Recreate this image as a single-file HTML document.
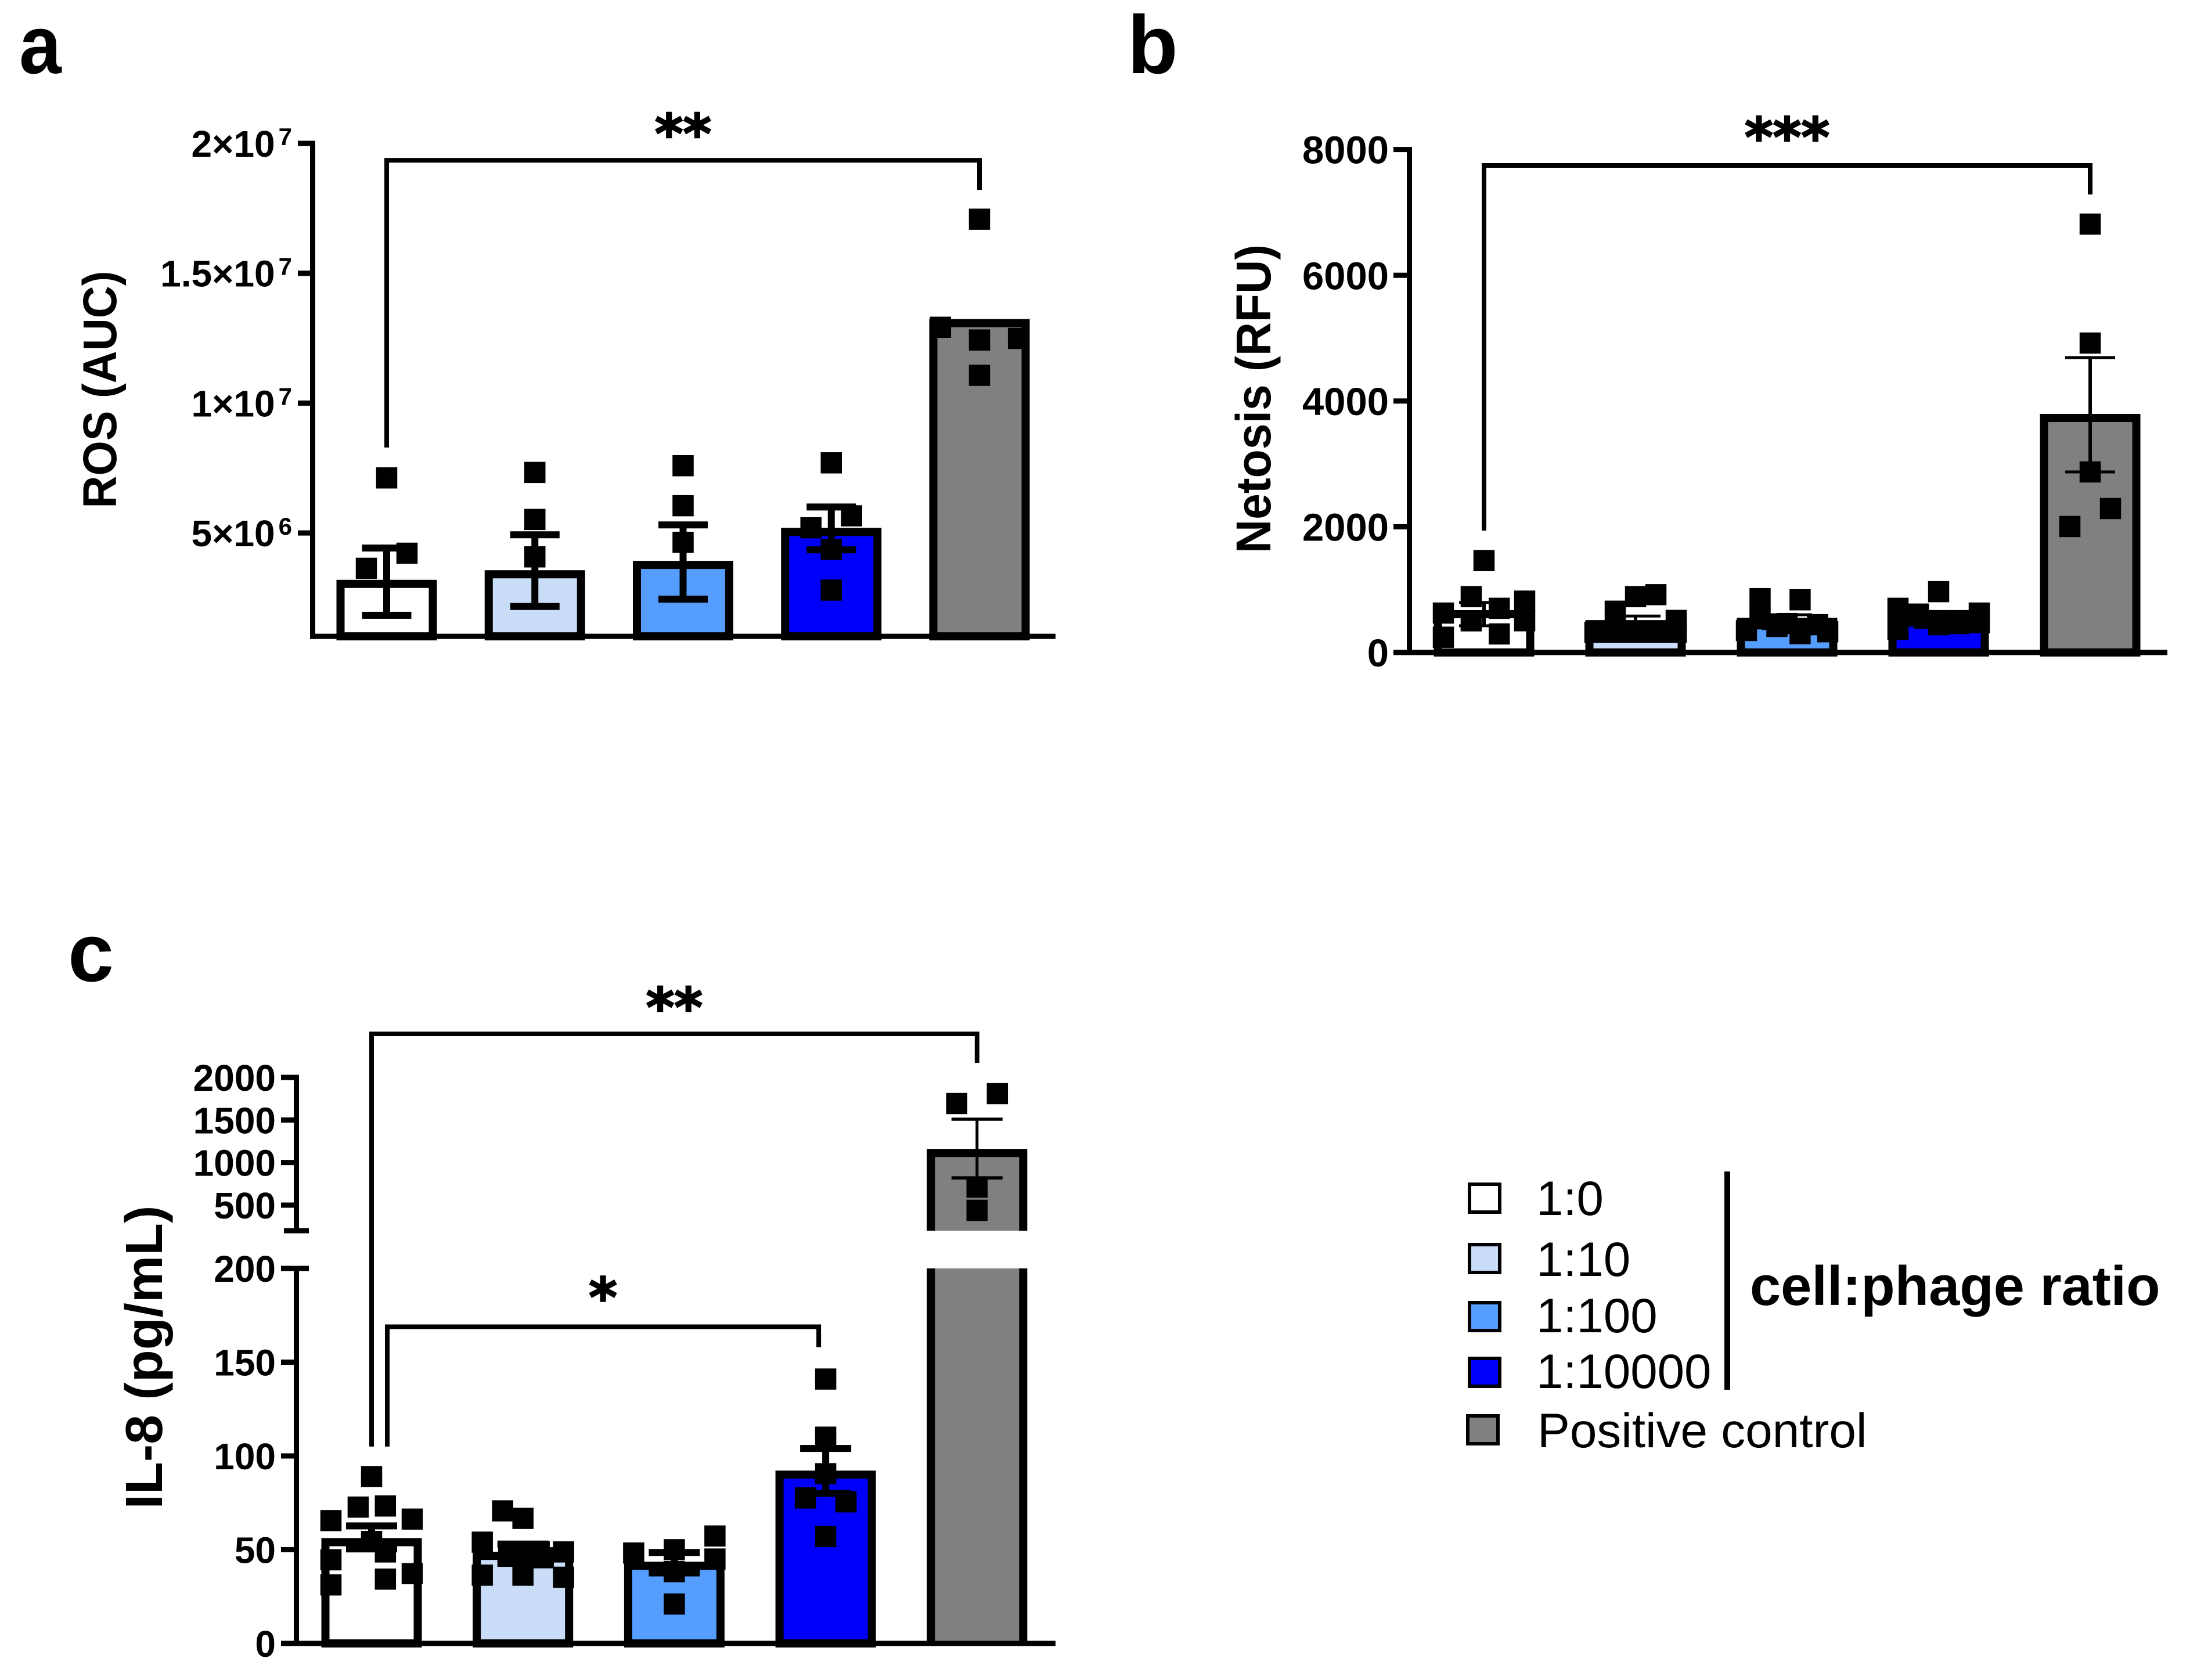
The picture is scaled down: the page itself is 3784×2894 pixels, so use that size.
<!DOCTYPE html>
<html lang="en">
<head>
<meta charset="utf-8">
<title>ROS, Netosis and IL-8 by cell:phage ratio</title>
<style>
html,body{margin:0;padding:0;background:#fff;}
svg{display:block;}
text{font-family:"Liberation Sans",Arial,sans-serif;fill:#000;}
.b{font-weight:bold;}
</style>
</head>
<body>
<svg id="figure" xmlns="http://www.w3.org/2000/svg" width="3784" height="2894" viewBox="0 0 3784 2894">
  <rect x="0" y="0" width="3784" height="2894" fill="#ffffff"/>
  <text class="b" transform="translate(33 126) scale(0.92 1)" font-size="142">a</text>
  <text class="b" x="1942" y="126" font-size="142">b</text>
  <text class="b" x="117" y="1690" font-size="142">c</text>

  <g id="panel-a"></g>
  <g id="panel-b"></g>
  <g id="panel-c"></g>

  <text class="b" font-size="82" text-anchor="middle" textLength="409" lengthAdjust="spacingAndGlyphs" transform="translate(200 671) rotate(-90)">ROS (AUC)</text>
  <text class="b" font-size="84" text-anchor="middle" textLength="532" lengthAdjust="spacingAndGlyphs" transform="translate(2188 687) rotate(-90)">Netosis (RFU)</text>
  <text class="b" font-size="90" text-anchor="middle" textLength="523" lengthAdjust="spacingAndGlyphs" transform="translate(279 2338) rotate(-90)">IL-8 (pg/mL)</text>

  <g>
    <rect x="2531" y="2040" width="52" height="48" fill="#ffffff" stroke="#000" stroke-width="6"/>
    <text x="2646" y="2093" font-size="83.4">1:0</text>
    <rect x="2531" y="2144" width="52" height="48" fill="#c9ddf8" stroke="#000" stroke-width="6"/>
    <text x="2646" y="2198" font-size="83.4">1:10</text>
    <rect x="2531" y="2244" width="52" height="48" fill="#559eff" stroke="#000" stroke-width="6"/>
    <text x="2646" y="2295" font-size="83.4">1:100</text>
    <rect x="2531" y="2340" width="52" height="48" fill="#0000fa" stroke="#000" stroke-width="6"/>
    <text x="2646" y="2391" font-size="83.4">1:10000</text>
    <rect x="2528" y="2439" width="52" height="48" fill="#808080" stroke="#000" stroke-width="6"/>
    <text x="2648" y="2493" font-size="83.7">Positive control</text>
    <rect x="2970" y="2018" width="10" height="376" fill="#000"/>
    <text class="b" x="3014" y="2248" font-size="95.6">cell:phage ratio</text>
  </g>
</svg>

<script>
// ---------- shared categories ----------
const categories = ['1:0', '1:10', '1:100', '1:10000', 'Positive control'];
const barColors = ['#ffffff', '#c9ddf8', '#559eff', '#0000fa', '#808080'];

// ---------- panel a: ROS (AUC) ----------
const rosTicks = [5e6, 1e7, 1.5e7, 2e7];
const rosTickLabels = ['5×10', '1×10', '1.5×10', '2×10'];
const rosTickExponents = ['6', '7', '7', '7'];
const rosMeans = [3.04e6, 3.41e6, 3.77e6, 5.04e6, 1.308e7];
const rosUpper = [4.42e6, 4.93e6, 5.31e6, 6.0e6, null];
const rosLower = [1.83e6, 2.17e6, 2.45e6, 4.35e6, null];
const rosPoints = [
  [7.12e6, 4.22e6, 3.64e6],
  [7.33e6, 5.52e6, 4.08e6],
  [7.59e6, 6.05e6, 4.64e6],
  [7.7e6, 5.66e6, 5.2e6, 4.37e6, 2.8e6],
  [17.08e6, 12.92e6, 12.43e6, 12.49e6, 11.07e6]
];
const rosJitter = [
  [0, 1, -1],
  [0, 0, 0],
  [0, 0, 0],
  [0, 1, -1, 0, 0],
  [0, -1.92, 0, 1.92, 0]
];

// ---------- panel b: Netosis (RFU) ----------
const netTicks = [0, 2000, 4000, 6000, 8000];
const netTickLabels = ['0', '2000', '4000', '6000', '8000'];
const netMeans = [610, 451, 488, 520, 3730];
const netUpper = [795, 580, 600, 640, 4691];
const netLower = [425, 330, 380, 400, 2872];
const netPoints = [
  [1462, 888, 627, 703, 817, 504, 505, 295, 243],
  [888, 920, 657, 510, 320, 320, 320, 320, 320, 320],
  [857, 838, 535, 350, 415, 298, 330, 442, 460],
  [968, 703, 611, 507, 507, 368, 580, 442, 460, 627, 473],
  [6814, 4922, 2872, 2290, 2004]
];
const netJitter = [
  [0, -0.63, -2, 0.75, 2, -0.63, 2, 0.75, -2],
  [0, 1, -1, 2, -2, -1, 0, 1, 2, 2],
  [-1.33, 0.64, -1.33, -2, -0.5, 0.64, 2, 1.5, 0],
  [0, -2, -1, 0, 1, -2, -1, 0, 1, 2, 2],
  [0, 0, 0, 1, -1]
];

// ---------- panel c: IL-8 (pg/mL), broken axis ----------
const il8LowerTicks = [0, 50, 100, 150, 200];
const il8LowerTickLabels = ['0', '50', '100', '150', '200'];
const il8UpperTicks = [500, 1000, 1500, 2000];
const il8UpperTickLabels = ['500', '1000', '1500', '2000'];
const il8BreakValue = 200;
const il8Means = [54, 46.7, 41.4, 90, 1113];
const il8Upper = [62.7, 53, 48.5, 104, 1509];
const il8Lower = [50.4, 42.7, 37.6, 80, 820];
const il8Points = [
  [89, 72.7, 73.3, 65.5, 66.3, 48.8, 44.6, 34.3, 37.2, 31.2, 54.4],
  [70.7, 66.7, 54, 48.8, 48.8, 48.8, 48, 36.4, 36.4, 35.3, 45.7],
  [57.3, 50, 48.2, 45, 38.3, 21],
  [141, 110, 90.5, 77.6, 75.5, 57],
  [1809, 1693, 711, 439]
];
const il8Jitter = [
  [0, -0.66, 0.68, -2, 2, 0.68, -2, 0.68, 2, -2, 0],
  [-1, 0, -2, 2, -0.7, 0.8, 0, -2, 0, 2, 1],
  [2, 0, -2, 2, 0, 0],
  [0, 0, 0, -1, 1, 0],
  [1, -1, 0, 0]
];

// ---------- axis functions ----------
const xA = i => 666 + 255.25 * i;
const yA = v => 247 + (2e7 - v) / 5e6 * 223.7;
const xB = i => 2556 + 261 * i;
const yB = v => 1124 - v * 0.1083;
const xC = i => 640 + 260.7 * i;
const C_BASE = 2831, C_LOW_TOP = 2185, C_UP_BOTTOM = 2120;
const yC = v => v <= il8BreakValue
  ? C_BASE - v * (C_BASE - C_LOW_TOP) / il8BreakValue
  : C_UP_BOTTOM - (v - il8BreakValue) * 0.1467;

const NS = 'http://www.w3.org/2000/svg';
function mk(tag, attrs, parent) {
  const node = document.createElementNS(NS, tag);
  for (const k in attrs) node.setAttribute(k, attrs[k]);
  parent.appendChild(node);
  return node;
}
const BAR_W = 173, BAR_STROKE = 14, MARK = 36.5, JITTER_UNIT = 35, AXIS_W = 9;

function drawBars(g, means, x, y, base) {
  means.forEach((m, i) => {
    const half = (BAR_W - BAR_STROKE) / 2;
    const bar = mk('rect', {
      x: x(i) - half, y: y(m), width: half * 2, height: base - y(m),
      fill: barColors[i], stroke: '#000', 'stroke-width': BAR_STROKE
    }, g);
    
    
  });
}

function drawErrors(g, upper, lower, x, y, stemFor, capFor, capW) {
  upper.forEach((u, i) => {
    if (u === null) return;
    const cx = x(i), yu = y(u), yl = y(lower[i]);
    const stem = mk('rect', {x: cx - stemFor(i) / 2, y: yu, width: stemFor(i), height: yl - yu, fill: '#000'}, g);
    
    
    const capTop = mk('rect', {x: cx - capW / 2, y: yu - capFor(i) / 2, width: capW, height: capFor(i), fill: '#000'}, g);
    
    
    const capBottom = mk('rect', {x: cx - capW / 2, y: yl - capFor(i) / 2, width: capW, height: capFor(i), fill: '#000'}, g);
    
    
  });
}

function drawPoints(g, points, jitter, x, y) {
  points.forEach((series, i) => {
    series.forEach((v, j) => {
      const pt = mk('rect', {
        x: x(i) + jitter[i][j] * JITTER_UNIT - MARK / 2,
        y: y(v) - MARK / 2, width: MARK, height: MARK, fill: '#000'
      }, g);
      
      
    });
  });
}

function drawYTicks(g, ticks, labels, y, axisX, tickLeft, labelRight, fontSize, exponents) {
  ticks.forEach((t, i) => {
    const tick = mk('rect', {x: tickLeft, y: y(t) - AXIS_W / 2, width: axisX - tickLeft, height: AXIS_W, fill: '#000'}, g);
    
    
    const label = mk('text', {
      x: labelRight, y: y(t) + fontSize * 0.36, 'text-anchor': 'end',
      'font-size': fontSize, 'font-weight': 'bold'
    }, g);
    
    
    label.textContent = labels[i];
    if (exponents) {
      const sup = mk('tspan', {dx: 6, dy: -20, 'font-size': 42}, label);
      sup.textContent = exponents[i];
    }
  });
}

function drawBracket(g, x1, x2, yTop, yLeftEnd, yRightEnd, stars, starOffset) {
  const line = mk('path', {
    d: `M${x1} ${yLeftEnd}V${yTop}H${x2}V${yRightEnd}`,
    fill: 'none', stroke: '#000', 'stroke-width': 8, 'stroke-linejoin': 'miter'
  }, g);
  
  
  const mark = mk('text', {
    x: (x1 + x2) / 2, y: yTop + starOffset, 'text-anchor': 'middle',
    stroke: '#000', 'stroke-width': 2.5,
    style: 'font-family:"DejaVu Sans",sans-serif;font-weight:bold;font-size:93px'
  }, g);
  
  
  mark.textContent = stars;
}

function axisLine(g, x, y, w, h) {
  return mk('rect', {x: x, y: y, width: w, height: h, fill: '#000'}, g);
}

// ---------- render panel a ----------
(function () {
  const g = document.getElementById('panel-a');
  const base = yA(1.02e6);
  drawBars(g, rosMeans, xA, yA, base);
  drawErrors(g, rosUpper, rosLower, xA, yA, () => 12, () => 12, 85);
  drawPoints(g, rosPoints, rosJitter, xA, yA);
  const yAxis = axisLine(g, 534, yA(2e7) - AXIS_W / 2, AXIS_W, base - yA(2e7) + AXIS_W);
  
  
  const xAxis = axisLine(g, 534, base - AXIS_W / 2, 1284, AXIS_W);
  
  
  drawYTicks(g, rosTicks, rosTickLabels, yA, 534, 513, 503, 64, rosTickExponents);
  drawBracket(g, xA(0), xA(4), yA(19.35e6), yA(8.29e6), yA(18.21e6), '**', -13);
})();

// ---------- render panel b ----------
(function () {
  const g = document.getElementById('panel-b');
  const base = yB(0);
  drawBars(g, netMeans, xB, yB, base);
  drawErrors(g, netUpper, netLower, xB, yB, () => 6, () => 5, 86);
  drawPoints(g, netPoints, netJitter, xB, yB);
  const yAxis = axisLine(g, 2423, yB(8000) - AXIS_W / 2, AXIS_W, base - yB(8000) + AXIS_W / 2);
  
  
  const xAxis = axisLine(g, 2400, base - AXIS_W / 2, 1333, AXIS_W);
  
  
  drawYTicks(g, netTicks, netTickLabels, yB, 2423, 2400, 2392, 67);
  drawBracket(g, xB(0), xB(4), yB(7747), yB(1939), yB(7285), '***', -16);
})();

// ---------- render panel c ----------
(function () {
  const g = document.getElementById('panel-c');
  il8Means.forEach((m, i) => {
    const half = (BAR_W - BAR_STROKE) / 2, cx = xC(i);
    if (m <= il8BreakValue) {
      const bar = mk('rect', {
        x: cx - half, y: yC(m), width: half * 2, height: C_BASE - yC(m),
        fill: barColors[i], stroke: '#000', 'stroke-width': BAR_STROKE
      }, g);
      
      
    } else {
      const lowerFill = mk('rect', {x: cx - half, y: C_LOW_TOP, width: half * 2, height: C_BASE - C_LOW_TOP, fill: barColors[i]}, g);
      
      
      const lowerWalls = mk('path', {
        d: `M${cx - half} ${C_LOW_TOP}V${C_BASE}M${cx + half} ${C_LOW_TOP}V${C_BASE}`,
        fill: 'none', stroke: '#000', 'stroke-width': BAR_STROKE
      }, g);
      
      
      const upperBar = mk('path', {
        d: `M${cx - half} ${C_UP_BOTTOM}V${yC(m)}H${cx + half}V${C_UP_BOTTOM}`,
        fill: barColors[i], stroke: '#000', 'stroke-width': BAR_STROKE
      }, g);
      
      
    }
  });
  drawErrors(g, il8Upper, il8Lower, xC, yC, i => (i === 4 ? 5 : 12), i => (i === 4 ? 5.5 : 12), 88);
  drawPoints(g, il8Points, il8Jitter, xC, yC);
  const yAxisUpper = axisLine(g, 506, yC(2000) - AXIS_W / 2, AXIS_W, C_UP_BOTTOM - yC(2000) + AXIS_W / 2);
  
  
  const yAxisLower = axisLine(g, 506, C_LOW_TOP - AXIS_W / 2, AXIS_W, C_BASE - C_LOW_TOP + AXIS_W / 2);
  
  
  const breakTop = axisLine(g, 489, C_UP_BOTTOM - AXIS_W / 2, 43, AXIS_W);
  
  
  const breakBottom = axisLine(g, 489, C_LOW_TOP - AXIS_W / 2, 43, AXIS_W);
  
  
  const xAxis = axisLine(g, 484, C_BASE - AXIS_W / 2, 1334, AXIS_W);
  
  
  drawYTicks(g, il8LowerTicks, il8LowerTickLabels, yC, 506, 484, 475, 64);
  drawYTicks(g, il8UpperTicks, il8UpperTickLabels, yC, 506, 484, 475, 64);
  drawBracket(g, xC(0), xC(4), yC(2511), yC(105), yC(2170), '**', -13);
  drawBracket(g, xC(0) + 27, xC(3) - 12, yC(168.9), yC(105), yC(158), '*', -18);
})();
</script>
</body>
</html>
